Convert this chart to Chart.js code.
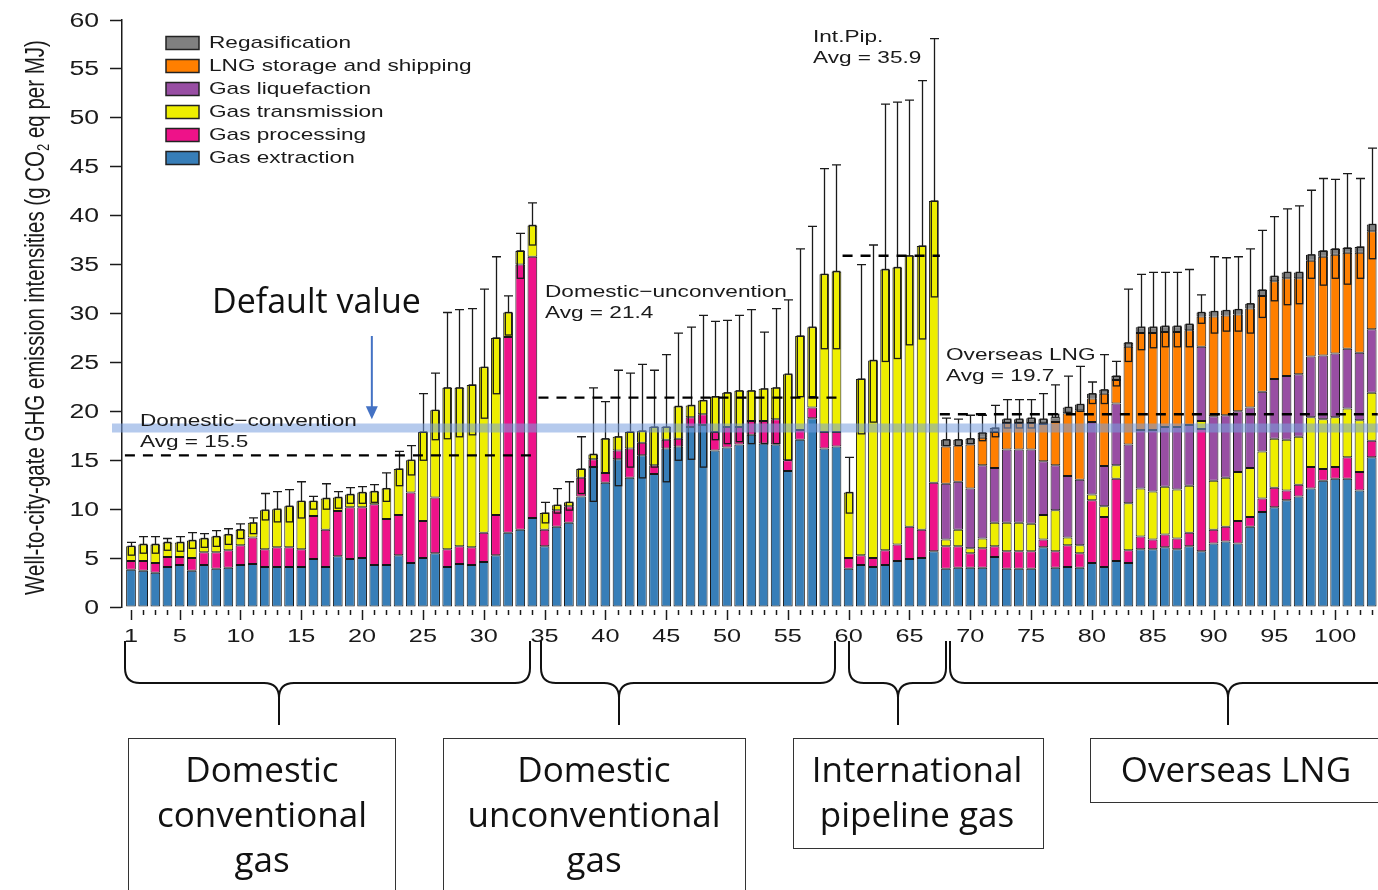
<!DOCTYPE html>
<html><head><meta charset="utf-8">
<script src="https://cdn.jsdelivr.net/npm/chart.js@4.4.1/dist/chart.umd.min.js"></script>
<style>html,body{margin:0;padding:0;background:#fff;}canvas{display:block;}</style>
</head><body>
<canvas id="c" width="1378" height="890"></canvas>
<script>
// ---------------- DATA ----------------
const barIds = Array.from({length:103},(_,i)=>i+1);
const xTickLabels = [1,5,10,15,20,25,30,35,40,45,50,55,60,65,70,75,80,85,90,95,100];
const yTickLabels = [0,5,10,15,20,25,30,35,40,45,50,55,60];

const groupLabels = ['Domestic\u2212convention','Domestic\u2212unconvention','Int.Pip.','Overseas LNG'];
const groupAvg    = [15.5, 21.4, 35.9, 19.7];
const groupFirst  = [1, 35, 60, 68];
const groupLast   = [34, 59, 67, 103];
const lngFirst = 68;
const defaultValue = 18.3;

const extraction = [3.8,3.7,3.5,4.1,4.3,3.7,4.3,3.9,4.0,4.3,4.4,4.1,4.1,4.1,4.1,4.9,4.1,5.2,4.9,5.0,4.3,4.3,5.3,4.5,5.0,5.5,4.1,4.4,4.3,4.6,5.3,7.6,7.9,9.1,
 6.2,8.2,8.6,11.3,14.3,12.7,15.1,13.2,15.5,13.6,16.2,16.4,18.4,18.6,16.0,16.3,16.6,17.6,16.7,16.6,13.9,17.1,19.3,16.2,16.4,
 3.9,4.3,4.1,4.3,4.7,4.9,5.0,5.7,
 3.9,4.0,4.0,4.0,5.1,3.9,3.9,3.9,6.1,4.0,4.1,4.0,4.5,4.1,4.7,4.5,5.9,5.9,6.1,5.9,6.2,5.7,6.5,6.7,6.5,8.2,9.7,10.2,10.9,11.3,12.1,12.9,13.1,13.1,11.9,15.3];
const processing = [0.9,1.0,1.0,1.0,0.8,1.3,1.3,1.7,1.8,2.0,2.7,1.8,2.0,2.0,1.8,4.4,3.8,4.6,5.3,5.2,6.2,4.7,4.1,7.2,3.8,5.7,1.8,1.8,1.8,3.0,4.1,20.0,27.1,26.7,
 1.7,1.7,1.7,1.9,0.8,1.0,0.9,3.0,1.3,0.9,0.9,0.8,1.0,1.1,1.9,2.1,1.8,1.4,2.3,2.6,1.1,1.0,1.1,1.7,1.5,
 1.1,1.0,0.9,1.5,1.7,3.3,2.9,7.0,
 2.3,2.2,1.5,2.0,1.1,1.8,1.8,1.8,0.8,1.7,2.2,1.5,6.4,5.1,8.4,1.3,1.3,1.0,1.3,1.1,1.4,12.5,1.4,1.5,2.3,1.0,1.4,2.0,1.0,1.2,2.2,1.2,1.2,2.2,1.9,1.7];
const transmission = [1.5,1.7,1.9,1.5,1.5,1.8,1.4,1.6,1.6,1.6,1.5,4.0,3.9,4.2,4.9,1.5,3.2,1.4,1.3,1.5,1.3,3.1,4.7,3.3,9.1,8.9,16.5,16.2,16.6,16.9,18.1,2.5,1.4,3.2,
 1.7,0.5,0.4,0.9,0.5,3.5,1.4,1.7,1.2,3.9,1.3,3.3,1.2,1.4,3.6,3.5,3.7,3.1,3.3,3.2,8.8,9.6,8.2,16.1,16.4,
 6.7,18.0,20.2,28.7,28.3,27.7,29.0,28.8,
 0.7,1.7,0.5,1.0,2.4,2.9,2.9,2.8,2.5,4.2,0.8,0.8,0.6,1.1,1.4,4.8,4.9,4.9,4.9,5.0,4.8,0.8,5.0,5.0,5.0,5.0,4.8,5.0,5.2,4.9,5.1,5.1,5.1,5.0,5.3,4.9];
// LNG-only stages (bars 68-103)
const liquefaction = [5.7,4.9,6.1,7.5,5.6,7.5,7.5,7.6,5.5,4.6,6.3,6.7,7.4,4.1,6.3,6.0,6.0,6.3,6.1,6.4,6.2,7.6,6.6,6.4,6.2,6.2,6.1,6.1,6.5,6.4,6.2,6.5,6.5,6.1,6.9,6.5];
const shipping     = [3.8,3.7,4.5,2.8,3.7,2.7,2.7,2.7,3.8,4.4,6.4,7.1,2.4,7.4,2.4,10.0,9.9,9.9,9.7,9.7,9.7,3.1,10.2,10.2,9.9,10.1,9.8,10.0,10.0,9.8,9.8,10.1,10.1,9.8,10.2,10.0];
const regas        = [0.7,0.6,0.6,0.5,0.4,0.4,0.4,0.5,0.5,0.5,0.6,0.6,0.5,0.4,0.4,0.4,0.6,0.6,0.6,0.6,0.6,0.4,0.5,0.5,0.5,0.5,0.6,0.5,0.6,0.6,0.6,0.6,0.6,0.5,0.6,0.7];

const errHigh = [6.6,7.2,7.2,7.0,7.2,7.6,7.5,7.8,8.0,8.5,9.1,11.6,11.8,12.0,12.8,11.3,12.6,11.8,12.2,12.3,12.5,13.7,15.9,16.5,21.8,23.9,30.1,30.4,30.5,32.5,35.8,31.8,38.2,41.3,
 10.7,12.1,12.8,17.4,22.4,21.0,24.2,23.9,24.8,24.2,25.8,28.0,28.6,29.8,29.2,29.3,29.8,30.4,28.1,30.5,31.4,36.6,38.9,44.8,45.2,
 15.3,35.0,37.0,51.4,51.6,51.8,53.8,58.1,
 19.3,19.2,19.6,19.6,20.6,21.2,21.2,21.2,21.8,22.7,23.6,24.6,23.0,25.8,25.1,32.5,34.0,34.2,34.2,34.2,34.5,31.9,35.8,35.7,35.8,36.6,38.5,39.9,40.7,41.0,42.6,43.8,43.7,44.3,43.8,46.9];
const errLow = [5.3,5.5,5.5,5.8,5.7,6.0,6.1,6.2,6.4,7.0,7.5,8.9,8.7,8.7,9.1,10.0,10.0,10.1,10.6,10.6,10.7,10.8,12.4,13.5,15.0,17.1,17.2,17.4,17.6,19.3,21.8,27.8,33.6,37.0,
 8.6,9.6,9.9,11.6,10.8,13.7,12.4,14.3,13.2,14.3,12.8,15.0,15.1,14.3,17.1,16.7,16.9,16.7,16.7,16.7,15.0,21.5,21.5,26.4,26.4,
 9.6,17.7,18.9,25.1,25.4,26.8,27.4,31.7,
 16.5,16.5,16.7,17.0,17.4,18.3,18.3,18.3,18.8,19.7,19.9,20.0,20.8,20.8,22.6,25.1,26.3,26.5,26.6,26.6,26.6,29.0,28.0,28.2,28.2,28.0,29.6,31.3,30.9,31.0,33.6,32.9,33.6,33.0,33.6,35.6];

const seriesNames  = ['Gas extraction','Gas processing','Gas transmission','Gas liquefaction','LNG storage and shipping','Regasification'];
const seriesColors = ['#377eb8','#ee1289','#eeee00','#984ea3','#ff7f00','#808080'];

// ---------------- BUILD ----------------
const full = arr => barIds.map((id,k)=>({x:id, y:arr[k]}));
const lng  = arr => arr.map((v,k)=>({x:lngFirst+k, y:v}));
const seriesData = [full(extraction), full(processing), full(transmission), lng(liquefaction), lng(shipping), lng(regas)];

const datasets = seriesData.map((d,i)=>({
  label: seriesNames[i], data: d, backgroundColor: seriesColors[i],
  borderColor: '#161616', borderWidth: 1, borderSkipped: false,
  barPercentage: 0.8, categoryPercentage: 1
}));

function totalAt(id){
  const k = id-1; let t = extraction[k]+processing[k]+transmission[k];
  if (id >= lngFirst){ const j = id-lngFirst; t += liquefaction[j]+shipping[j]+regas[j]; }
  return t;
}

const FIG = 'Liberation Sans, Arial, sans-serif';
const PPT = '"Open Sans", "Noto Sans", sans-serif';
const SX = 1.33;

function sText(ctx, str, x, y, size, align, opts={}){
  ctx.save();
  ctx.font = (opts.weight||'') + ' ' + size + 'px ' + (opts.family||FIG);
  ctx.fillStyle = opts.color || '#1a1a1a';
  ctx.textBaseline = opts.baseline || 'middle';
  ctx.textAlign = align || 'left';
  ctx.translate(x, y);
  ctx.scale(opts.stretch===undefined?SX:opts.stretch, 1);
  ctx.fillText(str, 0, 0);
  ctx.restore();
}

const overlay = {
  id: 'overlay',
  afterDatasetsDraw(chart){
    const ctx = chart.ctx, xs = chart.scales.x, ys = chart.scales.y, ca = chart.chartArea;

    // error bars
    ctx.save();
    ctx.strokeStyle = '#1a1a1a'; ctx.lineWidth = 1.3;
    barIds.forEach((id,k)=>{
      const px = Math.round(xs.getPixelForValue(id)) + 0.5;
      const pTop = ys.getPixelForValue(totalAt(id));
      const pHi = ys.getPixelForValue(errHigh[k]);
      const pLo = ys.getPixelForValue(errLow[k]);
      ctx.strokeRect(px-3.2, pTop, 6.4, pLo-pTop);
      ctx.beginPath();
      ctx.moveTo(px, pTop); ctx.lineTo(px, pHi);
      ctx.moveTo(px-4.5, pHi); ctx.lineTo(px+4.5, pHi);
      ctx.stroke();
    });
    ctx.restore();

    // average dashed lines
    ctx.save();
    ctx.strokeStyle = '#000'; ctx.lineWidth = 2.4; ctx.setLineDash([10,8]);
    groupAvg.forEach((v,g)=>{
      const y = ys.getPixelForValue(v);
      ctx.beginPath();
      ctx.moveTo(xs.getPixelForValue(groupFirst[g]-0.5), y);
      ctx.lineTo(xs.getPixelForValue(groupLast[g]+0.5), y);
      ctx.stroke();
    });
    ctx.restore();

    // default value band
    ctx.save();
    ctx.strokeStyle = 'rgba(120,158,222,0.55)'; ctx.lineWidth = 9;
    const yb = ys.getPixelForValue(defaultValue);
    ctx.beginPath(); ctx.moveTo(ca.left-10, yb); ctx.lineTo(ca.right, yb); ctx.stroke();
    ctx.restore();

    // group annotations
    const ann = [[140,421],[545,292],[813,37],[946,355]];
    ann.forEach((p,g)=>{
      sText(ctx, groupLabels[g], p[0], p[1], 17, 'left');
      sText(ctx, 'Avg = ' + groupAvg[g], p[0], p[1]+21, 17, 'left');
    });

    // legend (reverse order)
    const order = [5,4,3,2,1,0];
    order.forEach((i,r)=>{
      const y = 43 + r*23;
      ctx.save();
      ctx.fillStyle = seriesColors[i]; ctx.strokeStyle = '#222'; ctx.lineWidth = 1.5;
      ctx.fillRect(166, y-6.5, 33, 13); ctx.strokeRect(166, y-6.5, 33, 13);
      ctx.restore();
      sText(ctx, seriesNames[i], 209, y, 17, 'left');
    });

    // y tick labels
    yTickLabels.forEach(v=>{
      sText(ctx, String(v), 99, ys.getPixelForValue(v)+1, 20, 'right');
    });

    // y title (rotated, stretched)
    ctx.save();
    ctx.translate(36, (ca.top+ca.bottom)/2 + 4);
    ctx.scale(SX, 1);
    ctx.rotate(-Math.PI/2);
    ctx.fillStyle = '#1a1a1a'; ctx.textBaseline = 'middle';
    const f1 = '20.5px ' + FIG, f2 = '13px ' + FIG;
    const p1 = 'Well-to-city-gate GHG emission intensities (g CO', p2 = '2', p3 = ' eq per MJ)';
    ctx.font = f1; const w1 = ctx.measureText(p1).width, w3 = ctx.measureText(p3).width;
    ctx.font = f2; const w2 = ctx.measureText(p2).width;
    let sx = -(w1+w2+w3)/2;
    ctx.font = f1; ctx.fillText(p1, sx, 0); sx += w1;
    ctx.font = f2; ctx.fillText(p2, sx, 6); sx += w2;
    ctx.font = f1; ctx.fillText(p3, sx, 0);
    ctx.restore();

    // x ticks & labels
    ctx.save();
    ctx.strokeStyle = '#1a1a1a'; ctx.lineWidth = 1.5;
    barIds.forEach(id=>{
      const px = Math.round(xs.getPixelForValue(id)) + 0.5;
      const major = xTickLabels.includes(id);
      ctx.beginPath(); ctx.moveTo(px, ca.bottom+3); ctx.lineTo(px, ca.bottom + (major?13:8)); ctx.stroke();
    });
    ctx.restore();
    xTickLabels.forEach(v=>{
      sText(ctx, String(v), xs.getPixelForValue(v), 637, 19, 'center');
    });

    // braces
    ctx.save();
    ctx.strokeStyle = '#111'; ctx.lineWidth = 2;
    const braces = [[125,530,279],[541,835,619],[849,946,898],[950,1400,1228]];
    const yT = 641, yM = 683, yC = 698, yB = 725, r = 15;
    braces.forEach(([a,b,t])=>{
      ctx.beginPath();
      ctx.moveTo(a, yT); ctx.lineTo(a, yM-r); ctx.quadraticCurveTo(a, yM, a+r, yM);
      ctx.lineTo(t-r, yM); ctx.quadraticCurveTo(t, yM, t, yC); ctx.lineTo(t, yB);
      ctx.moveTo(t, yC); ctx.quadraticCurveTo(t, yM, t+r, yM);
      ctx.lineTo(b-r, yM); ctx.quadraticCurveTo(b, yM, b, yM-r); ctx.lineTo(b, yT);
      ctx.stroke();
    });
    ctx.restore();

    // boxes with group names
    const boxes = [
      [128,738,267,160,262,['Domestic','conventional','gas']],
      [443,738,302,160,594,['Domestic','unconventional','gas']],
      [793,738,250,110,917,['International','pipeline gas']],
      [1090,738,300,64,1236,['Overseas LNG']]
    ];
    boxes.forEach(([x,y,w,h,cx,lines])=>{
      ctx.save(); ctx.strokeStyle = '#333'; ctx.lineWidth = 1;
      ctx.strokeRect(x+0.5, y+0.5, w, h); ctx.restore();
      lines.forEach((s,i)=> sText(ctx, s, cx, 772 + i*45, 35, 'center', {family: PPT, color:'#111', stretch:1}));
    });

    // Default value + arrow
    sText(ctx, 'Default value', 212, 303, 34, 'left', {family: PPT, color:'#111', stretch:1});
    ctx.save();
    const ax = xs.getPixelForValue(20.8);
    const ay1 = ys.getPixelForValue(27.7), ay2 = ys.getPixelForValue(19.2);
    ctx.strokeStyle = '#4472c4'; ctx.fillStyle = '#4472c4'; ctx.lineWidth = 2;
    ctx.beginPath(); ctx.moveTo(ax, ay1); ctx.lineTo(ax, ay2-10); ctx.stroke();
    ctx.beginPath(); ctx.moveTo(ax-6, ay2-13); ctx.lineTo(ax+6, ay2-13); ctx.lineTo(ax, ay2); ctx.closePath(); ctx.fill();
    ctx.restore();
  }
};

new Chart(document.getElementById('c'), {
  type: 'bar',
  data: { datasets },
  options: {
    responsive: false, animation: false, devicePixelRatio: 1,
    layout: { padding: { left: 0, right: 0, top: 20, bottom: 283 } },
    plugins: { legend: { display: false }, tooltip: { enabled: false } },
    scales: {
      x: { type: 'linear', stacked: true, min: 0.26, max: 103.52, offset: false, grid: { offset: false }, display: false },
      y: {
        stacked: true, min: 0, max: 60,
        ticks: { stepSize: 5, display: false },
        grid: { drawOnChartArea: false, drawTicks: true, tickLength: 12, tickColor: '#1a1a1a', tickWidth: 1.5 },
        border: { display: true, color: '#1a1a1a', width: 1.5 },
        afterFit(s){ s.width = 122; }
      }
    }
  },
  plugins: [overlay]
});
</script>
</body></html>
